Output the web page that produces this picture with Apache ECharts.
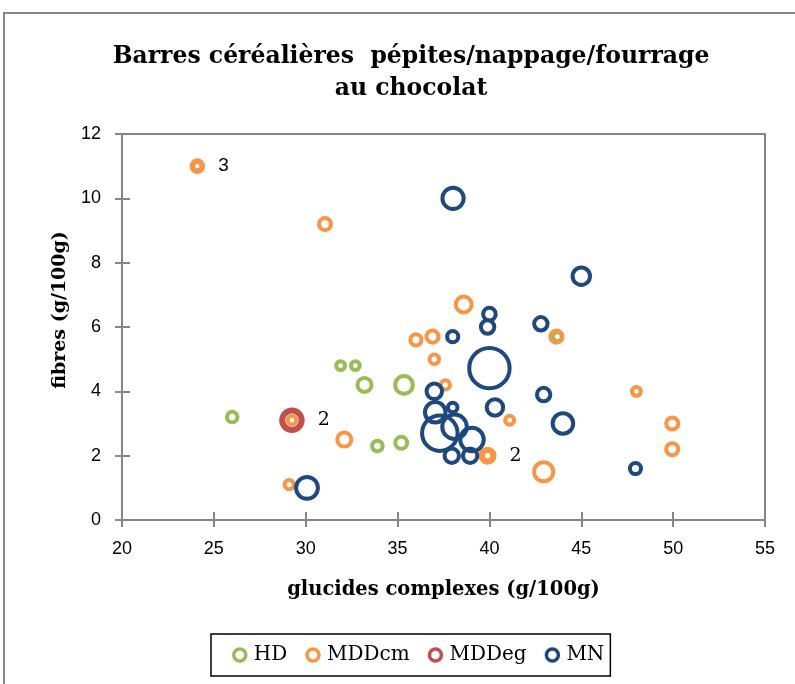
<!DOCTYPE html>
<html>
<head>
<meta charset="utf-8">
<script src="https://cdn.jsdelivr.net/npm/echarts@6/dist/echarts.min.js"></script>
<style>
  html, body { margin: 0; padding: 0; background: #fff; }
  #chart { width: 795px; height: 684px; }
</style>
</head>
<body>
<div id="chart"></div>
<script>
// Glucides complexes (x), fibres (y) and bubble weight, one set of arrays per group
const hdX   = [26.0, 31.9, 32.7, 33.2, 35.35, 33.9, 35.2, 43.7];
const hdY   = [3.2, 4.8, 4.8, 4.2, 4.2, 2.3, 2.4, 5.7];
const hdW   = [2, 1.4, 1.4, 3.5, 5.5, 2, 2.5, 1.4];

const cmX   = [24.1, 24.1, 24.1, 31.05, 29.1, 29.25, 32.1, 36.0, 36.9, 37.0, 37.6, 38.6, 39.9, 39.9, 41.1, 43.65, 42.95, 48.0, 49.95, 49.95];
const cmY   = [11.0, 11.0, 11.0, 9.2, 1.1, 3.1, 2.5, 5.6, 5.7, 5.0, 4.2, 6.7, 2.0, 2.0, 3.1, 5.7, 1.5, 4.0, 3.0, 2.2];
const cmW   = [1.2, 1.8, 2.4, 2.6, 1.5, 1.3, 3.5, 2.2, 2.6, 1.6, 1.5, 4.5, 1.5, 3.5, 1.4, 2.6, 6.5, 1.4, 2.6, 2.6];

const egX   = [29.25, 29.25];
const egY   = [3.1, 3.1];
const egW   = [5.4, 8.2];

const mnX   = [30.07, 38.02, 45.0, 40.0, 39.9, 38.0, 42.8, 40.0, 37.0, 38.0, 37.05, 37.3, 38.1, 39.05, 37.95, 38.95, 40.3, 42.95, 44.0, 47.95];
const mnY   = [1.0, 10.0, 7.58, 6.4, 6.0, 5.7, 6.1, 4.72, 4.0, 3.5, 3.35, 2.7, 2.9, 2.5, 2.0, 2.0, 3.5, 3.9, 3.0, 1.6];
const mnW   = [8.5, 8, 5.4, 2.8, 3.2, 2.2, 3.2, 29, 4.3, 1.6, 7.5, 22.4, 10.7, 9.8, 3.7, 3.7, 4.8, 3.2, 7.5, 2.2];

// Number of products sharing a point, written next to the stacked rings
const cmCount = [null, null, '3', null, null, null, null, null, null, null, null, null, null, '2', null, null, null, null, null, null];
const egCount = [null, '2'];

const groups = ['HD', 'MDDcm', 'MDDeg', 'MN'];
const colors = ['#9BBB59', '#F79646', '#C0504D', '#1F497D'];

const xTicks = { min: 20, max: 55, interval: 5 };
const yTicks = { min: 0, max: 12, interval: 2 };

const serif = 'DejaVu Serif';
const sans = 'Liberation Sans';

function points(xs, ys, ws, counts, labelFont) {
  return xs.map((x, i) => {
    const p = { value: [x, ys[i], ws[i]] };
    if (counts && counts[i]) {
      p.label = {
        show: true, formatter: counts[i], position: 'right', distance: 13,
        fontFamily: labelFont[i] || serif, fontSize: 19, color: '#000'
      };
    }
    return p;
  });
}

const cmFont = cmCount.map(c => c === '3' ? sans : serif);

function ringSeries(name, color, data, bw) {
  return {
    name, type: 'scatter', xAxisIndex: 0, yAxisIndex: 0,
    symbol: 'circle',
    symbolSize: v => 7.5 * Math.sqrt(v[2]),
    itemStyle: { color: 'rgba(255,255,255,0)', borderColor: color, borderWidth: bw, opacity: 1 },
    emphasis: { disabled: true },
    data
  };
}

const chart = echarts.init(document.getElementById('chart'), null, { renderer: 'canvas' });

const axisGray = '#868686';

chart.setOption({
  animation: false,
  backgroundColor: '#fff',
  graphic: [{
    type: 'rect', z: -10, silent: true,
    shape: { x: 4, y: 13, width: 900, height: 900 },
    style: { fill: 'none', stroke: axisGray, lineWidth: 2 }
  }],
  title: {
    text: 'Barres céréalières  pépites/nappage/fourrage\nau chocolat',
    left: 406, top: 36, textAlign: 'center',
    textStyle: { fontFamily: serif, fontWeight: 'bold', fontSize: 23.5, lineHeight: 32, color: '#000' }
  },
  grid: {
    left: 122, right: 30, top: 134, bottom: 164,
    show: true, borderColor: axisGray, borderWidth: 2, backgroundColor: '#fff'
  },
  legend: {
    left: 211, top: 634,
    padding: [11, 6, 11, 21],
    itemGap: 18, itemWidth: 12, itemHeight: 12,
    borderColor: '#000', borderWidth: 1.5,
    textStyle: { fontFamily: serif, fontSize: 20, color: '#000', padding: [0, 0, 0, 3] },
    data: groups.map((g, i) => ({
      name: g, icon: 'circle',
      itemStyle: { color: '#fff', borderColor: colors[i], borderWidth: 3.5 }
    }))
  },
  xAxis: [{
    type: 'value', min: xTicks.min, max: xTicks.max, interval: xTicks.interval,
    position: 'bottom',
    axisLine: { show: true, lineStyle: { color: axisGray, width: 2 } },
    axisTick: { show: true, inside: true, length: 8, lineStyle: { color: axisGray, width: 2 } },
    axisLabel: { margin: 20, fontFamily: sans, fontSize: 18, color: '#000' },
    splitLine: { show: false },
    name: 'glucides complexes (g/100g)', nameLocation: 'middle', nameGap: 60,
    nameTextStyle: { fontFamily: serif, fontWeight: 'bold', fontSize: 19.5, color: '#000' }
  }, {
    type: 'value', min: xTicks.min, max: xTicks.max, interval: xTicks.interval,
    position: 'bottom', gridIndex: 0,
    axisLine: { show: false },
    axisTick: { show: true, inside: false, length: 7, lineStyle: { color: axisGray, width: 2 } },
    axisLabel: { show: false }, splitLine: { show: false }
  }],
  yAxis: [{
    type: 'value', min: yTicks.min, max: yTicks.max, interval: yTicks.interval,
    position: 'left',
    axisLine: { show: true, lineStyle: { color: axisGray, width: 2 } },
    axisTick: { show: true, inside: true, length: 8, lineStyle: { color: axisGray, width: 2 } },
    axisLabel: { margin: 21, fontFamily: sans, fontSize: 18, color: '#000' },
    splitLine: { show: false },
    name: 'fibres (g/100g)', nameLocation: 'middle', nameGap: 52,
    nameTextStyle: { fontFamily: serif, fontWeight: 'bold', fontSize: 19, color: '#000', padding: [0, 0, 0, 34] }
  }, {
    type: 'value', min: yTicks.min, max: yTicks.max, interval: yTicks.interval,
    position: 'left', gridIndex: 0,
    axisLine: { show: false },
    axisTick: { show: true, inside: false, length: 7, lineStyle: { color: axisGray, width: 2 } },
    axisLabel: { show: false }, splitLine: { show: false }
  }],
  series: [
    ringSeries('HD', colors[0], points(hdX, hdY, hdW), 4),
    ringSeries('MDDcm', colors[1], points(cmX, cmY, cmW, cmCount, cmFont), 4),
    ringSeries('MDDeg', colors[2], points(egX, egY, egW, egCount, [serif, serif]), 4),
    ringSeries('MN', colors[3], points(mnX, mnY, mnW), 4)
  ]
});
</script>
</body>
</html>
